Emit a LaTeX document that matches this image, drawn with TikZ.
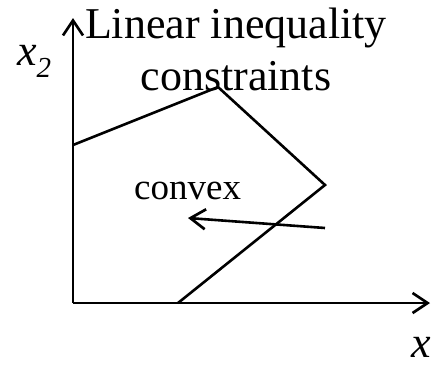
\documentclass[tikz,border=0pt]{standalone}
\usepackage{fontspec}
\setmainfont{Liberation Serif}
\usetikzlibrary{arrows.meta, positioning}

\begin{document}
\begin{tikzpicture}[
    x=1pt, y=-1pt,
    axis/.style={-{Straight Barb[length=15pt, width=20pt, line width=2.7pt]}, line width=2.7pt},
    edge/.style={line width=2.6pt, line join=miter},
    lbl/.style={inner sep=0pt, font=\fontsize{44}{52}\selectfont},
    every node/.append style={inner sep=0pt}
  ]
  \useasboundingbox (0,0) rectangle (432,367);

  \coordinate (origin) at (73,303);
  \coordinate (ytip) at (73,18);
  \coordinate (xtip) at (430,303);

  % feasible region boundary
  \coordinate (p1) at (73,145);
  \coordinate (p2) at (218,87);
  \coordinate (p3) at (325,185);
  \coordinate (p4) at (178,303);

  \coordinate (cstart) at (325,228);
  \coordinate (cend) at (188,218);

  \draw[axis] (origin) -- (ytip);
  \draw[axis] (origin) -- (xtip);
  \draw[edge] (p1) -- (p2) -- (p3) -- (p4);
  \draw[axis, line width=2.6pt] (cstart) -- (cend);

  \node[lbl, anchor=north, align=center] (title) at (236,8) {Linear inequality\\constraints};
  \node[lbl, anchor=base west, font=\fontsize{37}{44}\selectfont] (convex) at (134,199) {convex};
  \node[lbl, anchor=base west] (xtwo) at (17,65) {\textit{x}\raisebox{-0.28em}{\fontsize{29}{29}\selectfont\textit{2}}};
  \node[lbl, anchor=base west] (xone) at (411,357) {\textit{x}};
\end{tikzpicture}
\end{document}
